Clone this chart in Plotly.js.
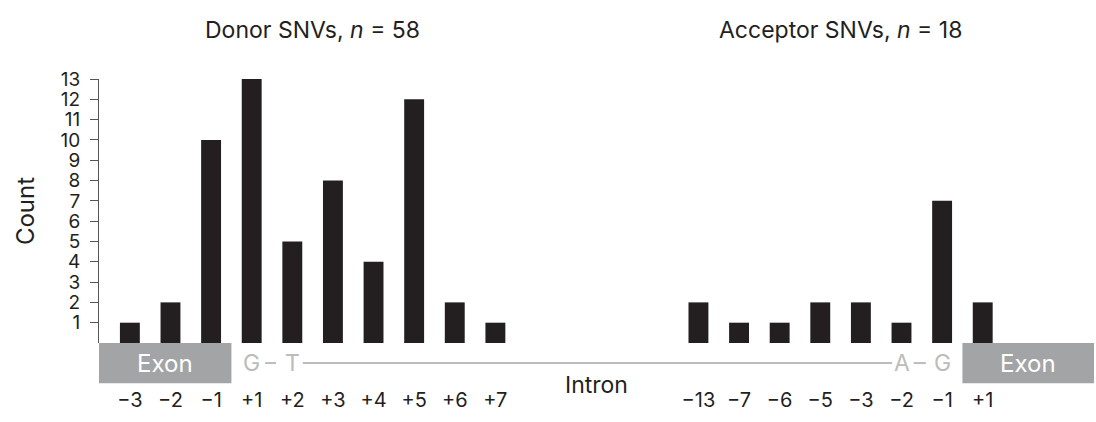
<!DOCTYPE html>
<html>
<head>
<meta charset="utf-8">
<script src="https://cdn.plot.ly/plotly-3.0.1.min.js"></script>
<style>
  html, body { margin: 0; padding: 0; background: #fff; }
  #chart { width: 1096px; height: 422px; }
</style>
</head>
<body>
<div id="chart"></div>
<script>
const donorLabels = ["\u22123", "\u22122", "\u22121", "+1", "+2", "+3", "+4", "+5", "+6", "+7"];
const donorCounts = [1, 2, 10, 13, 5, 8, 4, 12, 2, 1];
const acceptorLabels = ["\u221213", "\u22127", "\u22126", "\u22125", "\u22123", "\u22122", "\u22121", "+1"];
const acceptorCounts = [2, 1, 1, 2, 2, 1, 7, 2];

// empty slots between the two groups
const gap = 4;
const donorX = donorLabels.map((_, i) => i);
const acceptorX = acceptorLabels.map((_, i) => donorLabels.length + gap + i);

const font = "Inter, 'Liberation Sans', Arial, sans-serif";
const barColor = "#231f20";
const gray = "#a3a4a6";
const lineGray = "#bcbcbc";

const traceDonor = {
    x: donorX,
    y: donorCounts,
    type: "bar",
    marker: { color: barColor },
    hoverinfo: "skip"
};

const traceAcceptor = {
    x: acceptorX,
    y: acceptorCounts,
    type: "bar",
    marker: { color: barColor },
    hoverinfo: "skip"
};

const lineY = -0.076;
const boxBottom = -0.152;

function label(text, x, y, size, color) {
    return {
        text: text, x: x, xref: "x", y: y, yref: "paper",
        xanchor: "center", yanchor: "middle", showarrow: false,
        font: { size: size, color: color || "#231f20" }
    };
}

const layout = {
    width: 1096,
    height: 422,
    margin: { l: 99, r: 2, t: 79, b: 79 },
    paper_bgcolor: "#fff",
    plot_bgcolor: "#fff",
    font: { family: font, color: "#231f20" },
    showlegend: false,
    bargap: 0.51,
    xaxis: {
        range: [-0.76, 23.74],
        tickvals: donorX.concat(acceptorX),
        ticktext: donorLabels.concat(acceptorLabels),
        tickfont: { size: 20 },
        ticks: "",
        ticklabelstandoff: 43,
        showline: false,
        showgrid: false,
        zeroline: false,
        fixedrange: true
    },
    yaxis: {
        range: [0, 13],
        tickvals: [1, 2, 3, 4, 5, 6, 7, 8, 9, 10, 11, 12, 13],
        tickfont: { size: 19 },
        ticks: "outside",
        ticklen: 8,
        tickcolor: "#555",
        ticklabelstandoff: 6,
        showline: true,
        linecolor: "#555",
        linewidth: 1,
        showgrid: false,
        zeroline: false,
        title: { text: "Count", font: { size: 24 }, standoff: 19 },
        fixedrange: true
    },
    shapes: [
        // exon boxes
        { type: "rect", xref: "x", yref: "paper", x0: -0.76, x1: 2.5, y0: boxBottom, y1: 0,
          fillcolor: gray, line: { width: 0 }, layer: "below" },
        { type: "rect", xref: "x", yref: "paper", x0: 20.5, x1: 23.74, y0: boxBottom, y1: 0,
          fillcolor: gray, line: { width: 0 }, layer: "below" },
        // intron line pieces
        { type: "line", xref: "x", yref: "paper", x0: 3.33, x1: 3.6, y0: lineY, y1: lineY,
          line: { color: lineGray, width: 2 } },
        { type: "line", xref: "x", yref: "paper", x0: 4.26, x1: 18.77, y0: lineY, y1: lineY,
          line: { color: lineGray, width: 2 } },
        { type: "line", xref: "x", yref: "paper", x0: 19.3, x1: 19.6, y0: lineY, y1: lineY,
          line: { color: lineGray, width: 2 } }
    ],
    annotations: [
        label("Donor SNVs, <i>n</i> = 58", 4.5, 1.186, 23),
        label("Acceptor SNVs, <i>n</i> = 18", 17.5, 1.186, 23),
        label("Exon", 0.87, boxBottom / 2, 24, "#fff"),
        label("Exon", 22.12, boxBottom / 2, 24, "#fff"),
        label("G", 3, lineY, 23, lineGray),
        label("T", 4, lineY, 23, lineGray),
        label("A", 19, lineY, 23, lineGray),
        label("G", 20, lineY, 23, lineGray),
        label("Intron", 11.5, -0.159, 23)
    ]
};

Plotly.newPlot("chart", [traceDonor, traceAcceptor], layout, { displayModeBar: false, staticPlot: true });
</script>
</body>
</html>
